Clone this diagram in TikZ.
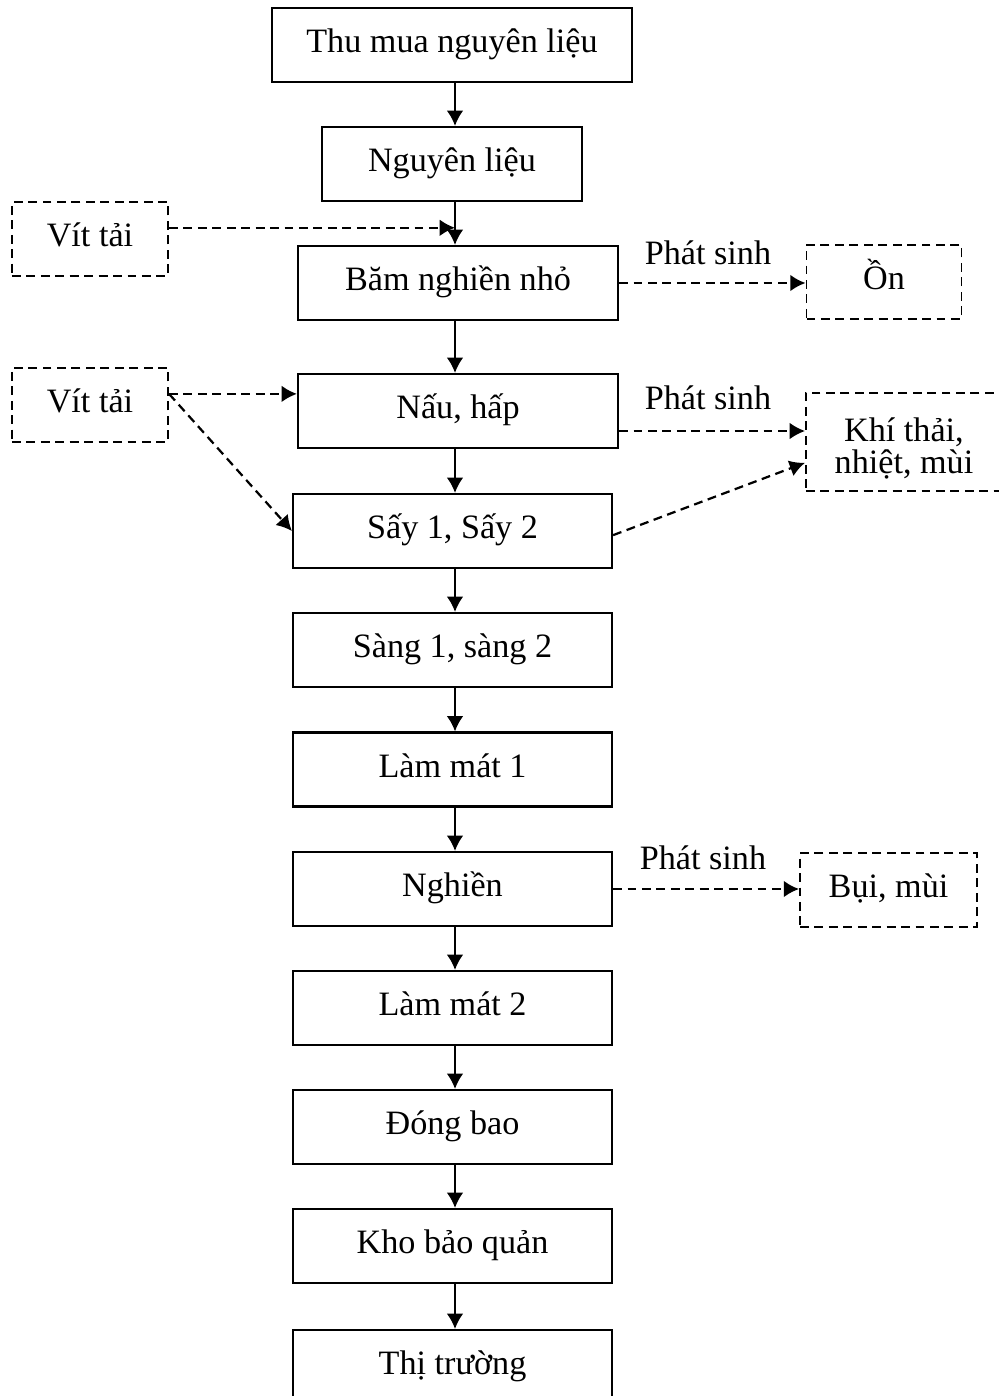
\documentclass[tikz,border=0pt]{standalone}
\usepackage{fontspec}
\setmainfont{Liberation Serif}
\usetikzlibrary{arrows.meta}
\usetikzlibrary{positioning}
\usetikzlibrary{calc}
\tikzset{
	procbox/.style={draw=black, line width=0.8pt, minimum width=114.8pt, minimum height=26.6pt,
		text height=8pt, text depth=2.4pt},
	sidebox/.style={draw=black, line width=0.7pt, dash pattern=on 3.2pt off 2pt, minimum height=26.6pt,
		text height=8pt, text depth=2.4pt},
	twoline/.style={draw=black, line width=0.7pt, dash pattern=on 3.2pt off 2pt, align=center,
		minimum height=35.6pt, font=\fontsize{12.3}{11.6}\selectfont},
	flow/.style={draw=black, line width=0.8pt, ->},
	dflow/.style={draw=black, line width=0.8pt, dash pattern=on 3.2pt off 2pt, ->},
	note/.style={inner sep=0pt},
}
\begin{document}
\begin{tikzpicture}[x=0.36pt, y=-0.36pt, font=\fontsize{12.3}{14.5}\selectfont,
	>={Latex[length=5.5pt,width=6pt]}]
	\useasboundingbox (0,0) rectangle (998,1396);
	\coordinate (axis) at (455,0);
	% main line
	\node[procbox, minimum width=129.6pt] (thumua) at (452,45) {Thu mua nguyên liệu};
	\node[procbox, minimum width=93.6pt] (nglieu) at (452,164) {Nguyên liệu};
	\node[procbox, minimum width=115.2pt] (bam) at (458,283) {Băm nghiền nhỏ};
	\node[procbox, minimum width=115.2pt] (nau) at (458,411) {Nấu, hấp};
	\node[procbox] (say) at (452.5,531) {Sấy 1, Sấy 2};
	\node[procbox] (sang) at (452.5,650) {Sàng 1, sàng 2};
	\node[procbox] (mat1) at (452.5,769.5) {Làm mát 1};
	\node[procbox] (nghien) at (452.5,889) {Nghiền};
	\node[procbox] (mat2) at (452.5,1008) {Làm mát 2};
	\node[procbox] (bao) at (452.5,1127) {Đóng bao};
	\node[procbox] (kho) at (452.5,1246) {Kho bảo quản};
	\node[procbox] (thitr) at (452.5,1367) {Thị trường};
	\foreach \a/\b in {thumua/nglieu, nglieu/bam, bam/nau, nau/say, say/sang, sang/mat1,
		mat1/nghien, nghien/mat2, mat2/bao, bao/kho, kho/thitr}
		\draw[flow] (\a.south -| axis) -- (\b.north -| axis);
	%
	% inputs
	\node[sidebox, minimum width=56.2pt] (vit1) at (90,239) {Vít tải};
	\node[sidebox, minimum width=56.2pt] (vit2) at (90,405) {Vít tải};
	\coordinate (join) at ($(nglieu.south -| axis)!0.6!(bam.north -| axis)$);
	\draw[dflow] (vit1.east |- join) -- (join);
	\draw[dflow] ([yshift=4pt]vit2.east) -- ([yshift=4pt]vit2.east -| nau.west);
	\draw[dflow] ([yshift=4pt]vit2.east) -- (say.west);
	%
	% emissions
	\node[sidebox, minimum width=55.8pt] (on) at (884,282) {Ồn};
	\node[twoline, minimum width=70.6pt] (khi) at (904,442) {\rule{0pt}{13pt}Khí thải,\\nhiệt, mùi};
	\node[sidebox, minimum width=63.7pt] (bui) at (888.5,890) {Bụi, mùi};
	\node[note] (ps1) at (708,253) {Phát sinh};
	\node[note] (ps2) at (708,398) {Phát sinh};
	\node[note] (ps3) at (703,858) {Phát sinh};
	\draw[dflow] (bam.east) -- (bam.east -| on.west);
	\draw[dflow] ([yshift=-7.2pt]nau.east) -- ([yshift=-7.2pt]nau.east -| khi.west);
	\draw[dflow] ([yshift=-1.5pt]say.east) -- ([yshift=-7.5pt]khi.west);
	\draw[dflow] (nghien.east) -- (nghien.east -| bui.west);
\end{tikzpicture}
\end{document}
